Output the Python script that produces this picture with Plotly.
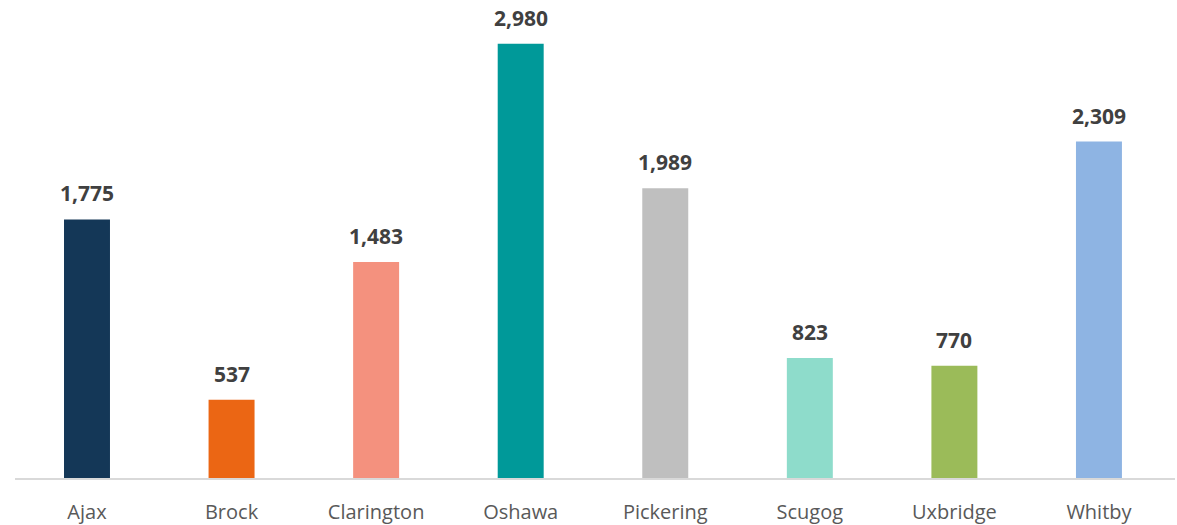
import plotly.graph_objects as go

regions = ["Ajax", "Brock", "Clarington", "Oshawa", "Pickering", "Scugog", "Uxbridge", "Whitby"]
counts = [1775, 537, 1483, 2980, 1989, 823, 770, 2309]
bar_colors = ["#143757", "#EB6614", "#F4917E", "#009999", "#BFBFBF", "#8EDCCB", "#9BBB59", "#8EB4E3"]

fig = go.Figure(go.Bar(
    x=regions,
    y=counts,
    width=0.318,
    marker=dict(color=bar_colors, line=dict(width=0)),
    hoverinfo="x+y",
))

# value labels above each bar
for r, v in zip(regions, counts):
    fig.add_annotation(
        x=r, y=v, text=f"<b>{v:,}</b>", showarrow=False,
        yanchor="bottom", yshift=10,
        font=dict(family="Open Sans", size=21, color="#404040"),
    )

fig.update_layout(
    width=1177, height=525,
    margin=dict(l=15, r=2, t=0, b=47),
    paper_bgcolor="white", plot_bgcolor="white",
    showlegend=False,
    font=dict(family="Open Sans"),
)
fig.update_xaxes(
    range=[-0.498, 7.526],
    showline=True, linecolor="#D9D9D9", linewidth=1.5,
    ticks="", ticklabelstandoff=15,
    tickfont=dict(family="Open Sans", size=20, color="#595959"),
)
fig.update_yaxes(range=[0, 3281], visible=False, showgrid=False, zeroline=False)

# drop the default page margin so the chart fills the window
fig.write_html("out.html", config={"displayModeBar": False},
               post_script="document.body.style.margin='0';")
